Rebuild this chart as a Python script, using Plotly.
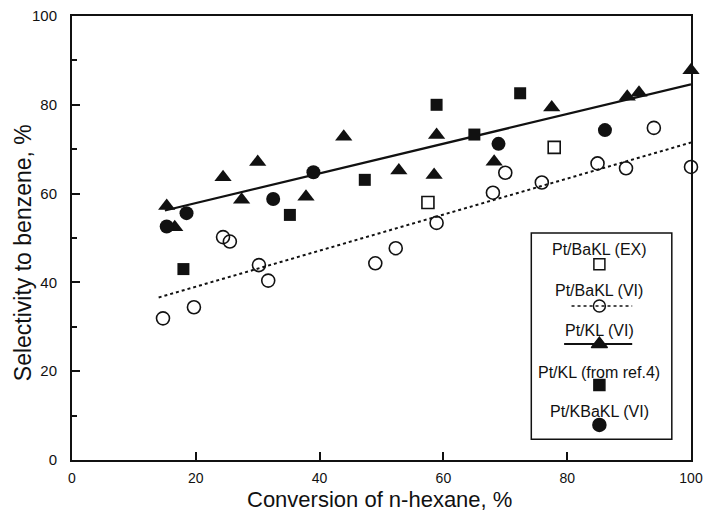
import plotly.graph_objects as go

# ---- data ----
ex_x = [57.5, 77.9]
ex_y = [58.0, 70.4]

bakl_vi_x = [14.7, 19.7, 24.4, 25.5, 30.2, 31.7, 49.0, 52.3, 58.9, 68.0, 70.0, 75.9, 84.9, 89.5, 94.0, 100.0]
bakl_vi_y = [31.9, 34.4, 50.2, 49.2, 43.9, 40.4, 44.3, 47.7, 53.4, 60.2, 64.7, 62.5, 66.8, 65.7, 74.8, 66.0]

kl_vi_x = [15.3, 16.6, 24.4, 27.4, 30.0, 37.8, 43.9, 52.8, 58.5, 58.9, 68.2, 77.5, 89.7, 91.6, 100.0]
kl_vi_y = [57.2, 52.4, 63.7, 58.6, 67.1, 59.3, 72.8, 65.2, 64.2, 73.2, 67.2, 79.4, 81.8, 82.7, 87.8]

ref4_x = [18.0, 35.2, 47.3, 58.9, 65.0, 72.4]
ref4_y = [43.0, 55.2, 63.1, 80.0, 73.3, 82.6]

kbakl_x = [15.3, 18.5, 32.5, 39.0, 68.9, 86.1]
kbakl_y = [52.6, 55.6, 58.8, 64.8, 71.2, 74.3]

fit_kl_x = [15.0, 100.0]
fit_kl_y = [56.2, 84.6]
fit_bakl_x = [14.0, 100.0]
fit_bakl_y = [36.6, 71.5]

x_ticks = [0, 20, 40, 60, 80, 100]
y_ticks = [0, 20, 40, 60, 80, 100]
x_title = "Conversion of n-hexane, %"
y_title = "Selectivity to benzene, %"

legend_labels = ["Pt/BaKL (EX)", "Pt/BaKL (VI)", "Pt/KL (VI)", "Pt/KL (from ref.4)", "Pt/KBaKL (VI)"]

FONT = "Liberation Sans, Arial, Helvetica, sans-serif"
BLACK = "#111111"

fig = go.Figure()

# fit lines
fig.add_trace(go.Scatter(x=fit_bakl_x, y=fit_bakl_y, mode="lines",
                         line=dict(color=BLACK, width=2, dash="dot"), showlegend=False))
fig.add_trace(go.Scatter(x=fit_kl_x, y=fit_kl_y, mode="lines",
                         line=dict(color=BLACK, width=2.2), showlegend=False))

# data points
fig.add_trace(go.Scatter(x=bakl_vi_x, y=bakl_vi_y, mode="markers", cliponaxis=False,
                         marker=dict(symbol="circle-open", size=13, color=BLACK, line=dict(width=1.6)),
                         showlegend=False))
fig.add_trace(go.Scatter(x=ex_x, y=ex_y, mode="markers", cliponaxis=False,
                         marker=dict(symbol="square-open", size=12, color=BLACK, line=dict(width=1.6)),
                         showlegend=False))
fig.add_trace(go.Scatter(x=kl_vi_x, y=kl_vi_y, mode="markers", cliponaxis=False,
                         marker=dict(symbol="triangle-up", size=15, color=BLACK),
                         showlegend=False))
fig.add_trace(go.Scatter(x=ref4_x, y=ref4_y, mode="markers", cliponaxis=False,
                         marker=dict(symbol="square", size=12, color=BLACK),
                         showlegend=False))
fig.add_trace(go.Scatter(x=kbakl_x, y=kbakl_y, mode="markers", cliponaxis=False,
                         marker=dict(symbol="circle", size=14, color=BLACK),
                         showlegend=False))

# ---- hand-drawn legend box (overlay axes in 0..1 units) ----
lx = 0.852
text_y = [0.475, 0.381, 0.291, 0.198, 0.110]
sym_y = [0.441, 0.347, 0.261, 0.169, 0.079]

fig.add_shape(type="rect", xref="paper", yref="paper", x0=0.742, x1=0.969, y0=0.047, y1=0.511,
              line=dict(color=BLACK, width=1.5), fillcolor="white", layer="below")

for lab, ty in zip(legend_labels, text_y):
    fig.add_annotation(x=lx, y=ty, xref="paper", yref="paper", text=lab, showarrow=False,
                       font=dict(family=FONT, size=16, color=BLACK), xanchor="center", yanchor="middle")

fig.add_trace(go.Scatter(x=[0.807, 0.905], y=[sym_y[1], sym_y[1]], xaxis="x2", yaxis="y2", mode="lines",
                         line=dict(color=BLACK, width=1.5, dash="dot"), showlegend=False))
fig.add_trace(go.Scatter(x=[0.795, 0.905], y=[sym_y[2], sym_y[2]], xaxis="x2", yaxis="y2", mode="lines",
                         line=dict(color=BLACK, width=2), showlegend=False))
leg_syms = [("square-open", 11), ("circle-open", 12), ("triangle-up", 14), ("square", 11), ("circle", 13)]
for (sym, sz), sy in zip(leg_syms, sym_y):
    fig.add_trace(go.Scatter(x=[lx], y=[sy], xaxis="x2", yaxis="y2", mode="markers",
                             marker=dict(symbol=sym, size=sz, color=BLACK,
                                         line=dict(width=1.5, color=BLACK)),
                             showlegend=False))

# axis titles placed as annotations
fig.add_annotation(x=0.496, y=-0.09, xref="paper", yref="paper", text=x_title, showarrow=False,
                   font=dict(family=FONT, size=22, color=BLACK), xanchor="center", yanchor="middle")
fig.add_annotation(x=-0.079, y=0.466, xref="paper", yref="paper", text=y_title, showarrow=False,
                   textangle=-90, font=dict(family=FONT, size=23, color=BLACK),
                   xanchor="center", yanchor="middle")

axis_common = dict(showline=True, linecolor=BLACK, linewidth=2, mirror=True, ticks="inside",
                   tickcolor=BLACK, tickwidth=1.5, ticklen=8, showgrid=False, zeroline=False,
                   automargin=False, ticklabeloverflow="allow")

fig.update_layout(
    width=703, height=513,
    margin=dict(l=72, r=12, t=16, b=53),
    paper_bgcolor="white", plot_bgcolor="white",
    font=dict(family=FONT, color=BLACK),
    xaxis=dict(range=[0, 100], tickvals=x_ticks, ticktext=[str(v) for v in x_ticks],
               ticklabelstandoff=4, tickfont=dict(family=FONT, size=14, color=BLACK),
               **axis_common),
    yaxis=dict(range=[0, 100], tickvals=y_ticks, ticktext=[str(v) for v in y_ticks],
               ticklabelstandoff=10, tickfont=dict(family=FONT, size=15, color=BLACK),
               minor=dict(ticks="inside", ticklen=5, tickwidth=1.5, tickcolor=BLACK, dtick=10),
               **axis_common),
    xaxis2=dict(range=[0, 1], overlaying="x", visible=False),
    yaxis2=dict(range=[0, 1], overlaying="y", visible=False),
)

fig.write_html("out.html", config={"displayModeBar": False},
               post_script="document.body.style.margin='0';document.body.style.padding='0';")
